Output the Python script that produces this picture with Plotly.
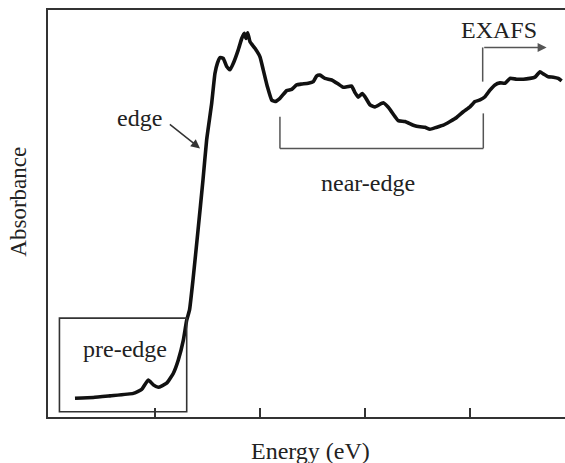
import plotly.graph_objects as go

# Energy (arbitrary units, tick marks at 1..4) and absorbance (normalised)
energy = [0.238, 0.412, 0.571, 0.793, 0.873, 0.936, 0.984, 1.031, 1.111, 1.174,
          1.222, 1.270, 1.302, 1.329, 1.362, 1.410, 1.457, 1.492, 1.540, 1.571,
          1.594, 1.619, 1.650, 1.683, 1.714, 1.746, 1.793, 1.826, 1.850, 1.867,
          1.883, 1.905, 1.952, 2.000, 2.031, 2.070, 2.111, 2.143, 2.190, 2.254,
          2.302, 2.349, 2.397, 2.460, 2.508, 2.540, 2.571, 2.619, 2.683, 2.746,
          2.793, 2.873, 2.905, 2.936, 2.974, 3.000, 3.048, 3.095, 3.174, 3.222,
          3.286, 3.317, 3.381, 3.460, 3.524, 3.571, 3.619, 3.683, 3.746, 3.810,
          3.873, 3.936, 4.000, 4.048, 4.095, 4.143, 4.190, 4.238, 4.286, 4.333,
          4.381, 4.444, 4.508, 4.571, 4.619, 4.667, 4.698, 4.746, 4.794, 4.841,
          4.873]
absorbance = [0.046, 0.048, 0.052, 0.058, 0.068, 0.091, 0.079, 0.073, 0.083, 0.107,
              0.140, 0.189, 0.238, 0.263, 0.337, 0.459, 0.582, 0.681, 0.771, 0.844,
              0.869, 0.883, 0.881, 0.861, 0.853, 0.869, 0.902, 0.930, 0.943, 0.930,
              0.944, 0.922, 0.906, 0.885, 0.853, 0.812, 0.779, 0.775, 0.783, 0.802,
              0.805, 0.816, 0.818, 0.820, 0.824, 0.838, 0.840, 0.832, 0.828, 0.818,
              0.810, 0.813, 0.797, 0.786, 0.795, 0.787, 0.767, 0.762, 0.772, 0.761,
              0.738, 0.728, 0.726, 0.717, 0.713, 0.712, 0.707, 0.712, 0.717, 0.726,
              0.736, 0.750, 0.762, 0.775, 0.779, 0.787, 0.803, 0.816, 0.821, 0.820,
              0.832, 0.830, 0.830, 0.832, 0.835, 0.848, 0.843, 0.836, 0.835, 0.832,
              0.826]

tick_values = [1, 2, 3, 4]

# Region markers (data units)
pre_edge_box = dict(x0=0.09, x1=1.302, y0=0.013, y1=0.243)
near_edge_x = [2.190, 4.127]
near_edge_top = [0.738, 0.746]
near_edge_bottom = 0.660
exafs_x = 4.121
exafs_y = [0.824, 0.908]
exafs_arrow_end = 4.730
edge_arrow_tail = (1.127, 0.722)
edge_arrow_head = (1.429, 0.660)

labels = {
    "edge": (0.848, 0.735),
    "pre-edge": (0.714, 0.167),
    "near-edge": (3.031, 0.575),
    "EXAFS": (4.276, 0.950),
}

FONT = "Liberation Serif, Times New Roman, serif"
TXT = "#222222"
LINE = "#333333"

fig = go.Figure()
fig.add_trace(go.Scatter(x=energy, y=absorbance, mode="lines",
                         line=dict(color="#111111", width=3.6, shape="spline", smoothing=0.4),
                         hoverinfo="skip", showlegend=False))

shapes = [
    dict(type="rect", xref="x", yref="y", line=dict(color=LINE, width=1.6), **pre_edge_box),
    dict(type="line", xref="x", yref="y", x0=near_edge_x[0], x1=near_edge_x[0],
         y0=near_edge_top[0], y1=near_edge_bottom, line=dict(color="#555555", width=1.5)),
    dict(type="line", xref="x", yref="y", x0=near_edge_x[0], x1=near_edge_x[1],
         y0=near_edge_bottom, y1=near_edge_bottom, line=dict(color="#555555", width=1.5)),
    dict(type="line", xref="x", yref="y", x0=near_edge_x[1], x1=near_edge_x[1],
         y0=near_edge_top[1], y1=near_edge_bottom, line=dict(color="#555555", width=1.5)),
    dict(type="line", xref="x", yref="y", x0=exafs_x, x1=exafs_x,
         y0=exafs_y[0], y1=exafs_y[1], line=dict(color="#555555", width=1.5)),
]

annotations = [
    dict(x=exafs_arrow_end, y=exafs_y[1], ax=exafs_x, ay=exafs_y[1], xref="x", yref="y",
         axref="x", ayref="y", text="", showarrow=True, arrowhead=2, arrowsize=1.2,
         arrowwidth=1.5, arrowcolor="#555555"),
    dict(x=edge_arrow_head[0], y=edge_arrow_head[1], ax=edge_arrow_tail[0], ay=edge_arrow_tail[1],
         xref="x", yref="y", axref="x", ayref="y", text="", showarrow=True, arrowhead=2,
         arrowsize=1.2, arrowwidth=1.5, arrowcolor="#333333"),
]
for t, (lx, ly) in labels.items():
    annotations.append(dict(x=lx, y=ly, xref="x", yref="y", text=t, showarrow=False,
                            xanchor="center", yanchor="middle",
                            font=dict(family=FONT, size=24, color=TXT)))
annotations.append(dict(x=0.507, y=-0.083, xref="paper", yref="paper", text="Energy (eV)",
                        xanchor="center", yanchor="middle",
                        showarrow=False, font=dict(family=FONT, size=24, color=TXT)))
annotations.append(dict(x=-0.057, y=0.528, xref="paper", yref="paper", text="Absorbance",
                        xanchor="center", yanchor="middle",
                        textangle=-90, showarrow=False, font=dict(family=FONT, size=23, color=TXT)))

fig.update_layout(
    width=565, height=463,
    margin=dict(l=48, r=0, t=10, b=46),
    paper_bgcolor="white", plot_bgcolor="white",
    shapes=shapes, annotations=annotations,
    xaxis=dict(range=[-0.019, 4.905], tickvals=tick_values, showticklabels=False,
               ticks="inside", ticklen=9, tickwidth=2, tickcolor=LINE,
               showline=True, linecolor=LINE, linewidth=2, mirror=True,
               showgrid=False, zeroline=False),
    yaxis=dict(range=[0, 1], showticklabels=False, ticks="",
               showline=True, linecolor=LINE, linewidth=2,
               showgrid=False, zeroline=False),
)

fig.write_html("out.html")
